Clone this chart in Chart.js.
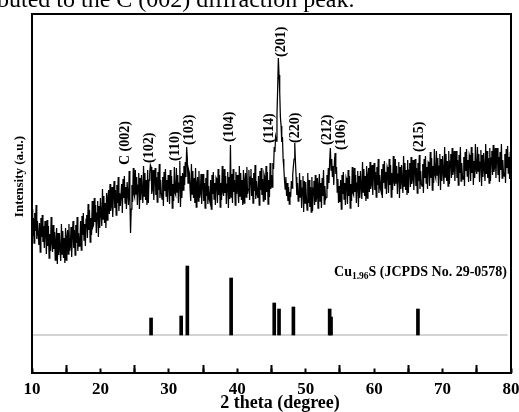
<!DOCTYPE html>
<html>
<head>
<meta charset="utf-8">
<script src="https://cdn.jsdelivr.net/npm/chart.js@4.4.1/dist/chart.umd.min.js"></script>
<style>
  html, body { margin:0; padding:0; background:#fff; }
  #wrap { position:relative; width:519px; height:412px; overflow:hidden; }
  #cap { position:absolute; left:-3px; top:-13px; font:24px/24px 'Liberation Serif', serif; color:#000; white-space:nowrap; }
  canvas { position:absolute; left:0; top:0; }
</style>
</head>
<body>
<div id="wrap">
  <canvas id="xrd" width="519" height="412"></canvas>
  <div id="cap">buted to the C (002) diffraction peak.</div>
</div>
<script>
/* ── measured pattern, 10°..80° every 0.1° (one row = one degree) ── */
const THETA_START = 10;
const THETA_STEP = 0.1;
const intensity = [
  164,137,155,130,160,142,168,134,152,139,
  128,150,121,155,136,158,131,147,125,152,
  142,119,153,127,147,115,139,122,156,130,
  121,148,124,141,113,133,145,109,140,118,
  140,124,112,149,119,142,115,135,110,145,
  113,136,143,119,149,122,127,146,116,139,
  152,125,143,118,148,130,156,122,140,127,
  130,152,123,157,138,160,133,149,127,154,
  158,135,169,143,163,131,155,138,172,146,
  148,175,151,168,140,160,172,136,167,145,
  175,159,147,184,154,177,150,170,145,180,
  153,176,183,159,189,162,167,186,156,179,
  192,165,183,158,188,170,196,162,180,167,
  167,189,160,194,175,197,170,186,164,191,
  191,168,202,176,140,164,188,171,205,179,
  176,203,179,196,168,188,200,164,195,173,
  198,182,170,207,177,200,173,193,168,203,
  170,193,200,208,206,179,184,203,173,196,
  205,178,196,171,201,183,209,175,193,180,
  174,196,167,201,182,204,177,193,171,198,
  192,169,203,177,197,165,189,172,206,180,
  178,205,181,198,170,190,212,166,197,175,
  200,183,207,188,211,196,226,214,190,203,
  200,184,172,209,179,202,175,195,170,205,
  166,189,196,172,202,175,180,199,169,192,
  199,172,190,165,195,177,203,169,187,174,
  171,193,164,198,179,201,174,190,168,195,
  193,170,204,178,198,166,190,173,207,181,
  177,204,180,197,169,189,201,165,196,174,
  228,176,199,170,204,181,193,168,201,179,
  198,182,170,207,177,200,173,193,168,203,
  170,193,200,176,206,179,184,203,173,196,
  204,177,195,170,200,182,208,174,192,179,
  175,197,168,202,183,205,178,194,172,199,
  196,173,207,181,201,169,193,176,210,184,
  198,186,210,204,226,221,236,232,258,284,
  315,298,281,256,247,231,236,214,205,193,
  184,196,177,190,172,186,169,181,176,192,
  185,198,207,214,230,211,196,178,190,172,
  173,200,176,193,165,185,197,161,192,170,
  191,175,163,200,170,193,166,186,161,196,
  162,185,192,168,198,171,176,195,165,188,
  199,172,190,165,195,177,203,169,187,174,
  176,198,184,205,190,212,225,203,214,196,
  207,188,212,220,199,206,181,194,170,187,
  171,193,164,198,179,201,174,190,168,195,
  192,169,203,177,197,165,189,172,206,180,
  178,205,181,198,170,190,202,166,197,175,
  202,186,174,211,181,204,177,197,172,207,
  175,198,205,181,211,184,189,208,178,201,
  210,183,201,176,206,188,214,180,198,185,
  182,204,175,209,190,212,185,201,179,206,
  203,180,214,188,208,176,200,183,217,191,
  187,214,190,207,179,199,211,175,206,184,
  208,192,180,217,187,210,183,203,178,213,
  180,203,210,186,216,189,194,213,183,206,
  214,187,205,180,210,192,218,184,202,189,
  187,209,180,214,195,217,190,206,184,211,
  210,187,221,195,215,183,207,190,224,198,
  195,222,198,215,187,207,219,183,214,192,
  217,201,189,226,196,219,192,212,187,222,
  189,212,219,195,225,198,203,222,192,215,
  222,195,213,188,218,200,226,192,210,197,
  194,216,187,221,202,224,197,213,191,218,
  215,192,226,200,220,188,212,195,229,203,
  199,226,202,219,191,211,223,187,218,196,
  220,204,192,229,199,222,195,215,190,225,
  192,215,222,198,228,201,206,225,195,218,
  225,198,216,191,221,203,229,195,213,200,
  197,219,190,224,205,227,200,216,194,221,
  212
];

/* reference card Cu1.96S */
const refTheta     = [27.4, 31.8, 32.7, 39.1, 45.4, 46.1, 48.2, 53.5, 53.7, 66.4];
const refIntensity = [17,   19,   69,   57,   32,   26,   28,   26,   18,   26];
const refBase = 38;
const refLineEnd = 79.5;

/* peak indexing */
const peakLabels = ['C (002)','(102)','(110)','(103)','(104)','(114)','(201)','(220)','(212)','(106)','(215)'];
const labelTheta = [23.6, 27.2, 30.9, 33.0, 38.8, 44.7, 46.4, 48.5, 53.1, 55.2, 66.6];
const labelAt    = [208,  210,  212,  228,  231,  230,  316,  230,  228,  223,  221];

const phaseLabelY = 97;
const FONT = "'Liberation Serif', 'Times New Roman', serif";

const pattern = intensity.map((v, i) => ({ x: THETA_START + i * THETA_STEP, y: v }));

const xrdText = {
  id: 'xrdText',
  afterDraw(chart) {
    const { ctx, chartArea: a, scales: { x, y } } = chart;
    ctx.save();
    ctx.fillStyle = '#000';

    // hkl labels, rotated
    ctx.font = `bold 14px ${FONT}`;
    ctx.textAlign = 'left';
    ctx.textBaseline = 'middle';
    peakLabels.forEach((t, i) => {
      ctx.save();
      ctx.translate(x.getPixelForValue(labelTheta[i]), y.getPixelForValue(labelAt[i]));
      ctx.rotate(-Math.PI / 2);
      ctx.fillText(t, 0, 0);
      ctx.restore();
    });

    // Cu1.96S (JCPDS ...) with subscript
    const parts = [
      { t: 'Cu', size: 14, dy: 0 },
      { t: '1.96', size: 9.5, dy: 2.5 },
      { t: 'S (JCPDS No. 29-0578)', size: 14, dy: 0 }
    ];
    ctx.textBaseline = 'alphabetic';
    let w = 0;
    parts.forEach(p => { ctx.font = `bold ${p.size}px ${FONT}`; p.w = ctx.measureText(p.t).width; w += p.w; });
    let px = a.right - 4 - w;
    const py = y.getPixelForValue(phaseLabelY);
    parts.forEach(p => { ctx.font = `bold ${p.size}px ${FONT}`; ctx.fillText(p.t, px, py + p.dy); px += p.w; });

    // axis titles
    ctx.font = `bold 18px ${FONT}`;
    ctx.textAlign = 'center';
    ctx.fillText('2 theta (degree)', 280, 408);
    ctx.save();
    ctx.translate(19.5, 176.5);
    ctx.rotate(-Math.PI / 2);
    ctx.font = `bold 13px ${FONT}`;
    ctx.textBaseline = 'middle';
    ctx.fillText('Intensity (a.u.)', 0, 0);
    ctx.restore();

    // frame
    ctx.lineWidth = 2;
    ctx.strokeStyle = '#000';
    ctx.strokeRect(a.left, a.top, a.right - a.left, a.bottom - a.top);
    ctx.restore();
  }
};

function fixHeight(h) {
  return s => { s.height = h; s.paddingLeft = 0; s.paddingRight = 0; };
}

new Chart(document.getElementById('xrd'), {
  type: 'line',
  data: {
    datasets: [
      { type: 'bar', data: refTheta.map((t, i) => ({ x: t, y: [refBase, refBase + refIntensity[i]] })),
        backgroundColor: '#000', barThickness: 3, order: 0 },
      { type: 'line', data: pattern, borderColor: '#000', borderWidth: 1.25, pointRadius: 0, tension: 0, order: 1 },
      { type: 'line', data: [{ x: THETA_START, y: refBase }, { x: refLineEnd, y: refBase }],
        borderColor: '#c4c4c4', borderWidth: 1.5, pointRadius: 0, order: 2 }
    ]
  },
  options: {
    responsive: false,
    animation: false,
    events: [],
    layout: { autoPadding: false, padding: { top: 14, right: 8, left: 0, bottom: 0 } },
    plugins: { legend: { display: false }, tooltip: { enabled: false } },
    scales: {
      x: {
        type: 'linear', min: 10, max: 80, offset: false, position: 'bottom',
        ticks: { stepSize: 10, color: '#000', padding: 14, maxRotation: 0, autoSkip: false,
                 font: { family: FONT, size: 17, weight: 'bold' } },
        grid: { drawOnChartArea: false, drawTicks: true, tickLength: -8, tickWidth: 2, tickColor: '#000' },
        border: { display: false },
        afterFit: fixHeight(39)
      },
      xMinor: {
        type: 'linear', min: 10, max: 80, position: 'bottom', weight: -1,
        ticks: { stepSize: 5, display: false },
        grid: { drawOnChartArea: false, drawTicks: true, tickLength: -4.5, tickWidth: 2, tickColor: '#000' },
        border: { display: false },
        afterFit: fixHeight(0)
      },
      y: {
        min: 0, max: 359,
        ticks: { display: false },
        grid: { display: false },
        border: { display: false },
        afterFit(s) { s.width = 32; s.paddingTop = 0; s.paddingBottom = 0; }
      }
    }
  },
  plugins: [xrdText]
});
</script>
</body>
</html>
